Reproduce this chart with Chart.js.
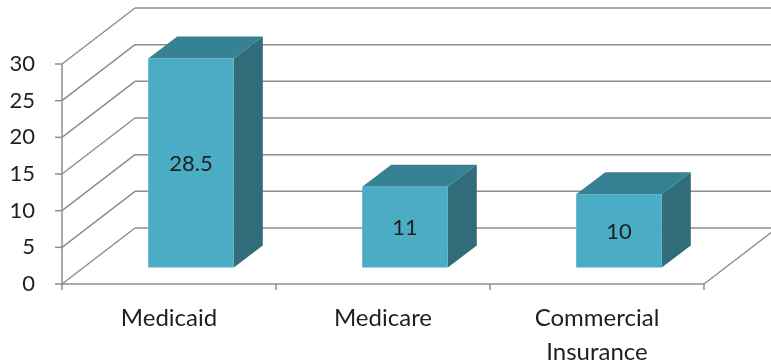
<!DOCTYPE html>
<html>
<head>
<meta charset="utf-8">
<script src="https://cdn.jsdelivr.net/npm/chart.js@4/dist/chart.umd.min.js"></script>
<style>
    html, body { margin: 0; padding: 0; background: #ffffff; }
    canvas { display: block; }
</style>
</head>
<body>
<canvas id="graficoCanvas" width="771" height="364"></canvas>
<script>
const categorias = [['Medicaid'], ['Medicare'], ['Commercial', 'Insurance']];
const valores = [28.5, 11, 10];
const ticksY = [0, 5, 10, 15, 20, 25, 30];

// profundidade das paredes e das barras
const PAREDE_DX = 73, PAREDE_DY = -56;
const BARRA_OX = 22, BARRA_OY = -16.5;
const BARRA_DX = 29, BARRA_DY = -22;
const corLinha = '#8e8e8e';
const corFrente = '#4bacc6';
const corTopo = '#378194';
const corLado = '#306c7a';

function linha(ctx, x1, y1, x2, y2) {
    ctx.beginPath();
    ctx.moveTo(x1, y1);
    ctx.lineTo(x2, y2);
    ctx.stroke();
}

const grade3d = {
    id: 'grade3d',
    beforeDatasetsDraw(chart) {
        const ctx = chart.ctx;
        const area = chart.chartArea;
        const y = chart.scales.y;
        const x = chart.scales.x;
        ctx.save();
        ctx.strokeStyle = corLinha;
        ctx.lineWidth = 1.5;

        // parede lateral e parede do fundo
        ticksY.forEach(v => {
            const py = y.getPixelForValue(v);
            linha(ctx, area.left, py, area.left + PAREDE_DX, py + PAREDE_DY);
            linha(ctx, area.left + PAREDE_DX, py + PAREDE_DY, chart.width, py + PAREDE_DY);
            linha(ctx, area.left - 7, py, area.left, py);
        });

        // eixo vertical
        linha(ctx, area.left, y.getPixelForValue(30), area.left, area.bottom);

        // piso
        linha(ctx, area.left, area.bottom, area.right, area.bottom);
        linha(ctx, area.right, area.bottom, area.right + PAREDE_DX, area.bottom + PAREDE_DY);

        // marcas entre categorias
        const passo = (area.right - area.left) / categorias.length;
        for (let i = 0; i <= categorias.length; i++) {
            const px = area.left + passo * i;
            linha(ctx, px, area.bottom, px, area.bottom + 6);
        }
        ctx.restore();
    },
    afterDatasetsDraw(chart) {
        const ctx = chart.ctx;
        const meta = chart.getDatasetMeta(0);
        ctx.save();
        meta.data.forEach((bar, i) => {
            const x0 = bar.x - bar.width / 2 + BARRA_OX;
            const x1 = x0 + bar.width;
            const y0 = bar.y + BARRA_OY;
            const y1 = bar.base + BARRA_OY;

            // topo
            ctx.fillStyle = corTopo;
            ctx.beginPath();
            ctx.moveTo(x0, y0);
            ctx.lineTo(x0 + BARRA_DX, y0 + BARRA_DY);
            ctx.lineTo(x1 + BARRA_DX, y0 + BARRA_DY);
            ctx.lineTo(x1, y0);
            ctx.closePath();
            ctx.fill();

            // lado
            ctx.fillStyle = corLado;
            ctx.beginPath();
            ctx.moveTo(x1, y0);
            ctx.lineTo(x1 + BARRA_DX, y0 + BARRA_DY);
            ctx.lineTo(x1 + BARRA_DX, y1 + BARRA_DY);
            ctx.lineTo(x1, y1);
            ctx.closePath();
            ctx.fill();

            // frente
            ctx.fillStyle = corFrente;
            ctx.fillRect(x0, y0, x1 - x0, y1 - y0);

            // rótulo do valor
            ctx.fillStyle = '#1f1f1f';
            ctx.font = '22px Lato';
            ctx.textAlign = 'center';
            ctx.textBaseline = 'middle';
            ctx.fillText(String(valores[i]), (x0 + x1) / 2, (y0 + y1) / 2 + 1);
        });
        ctx.restore();
    }
};

const ctx = document.getElementById('graficoCanvas').getContext('2d');
const grafico = new Chart(ctx, {
    type: 'bar',
    data: {
        labels: categorias,
        datasets: [{
            data: valores,
            backgroundColor: 'rgba(0,0,0,0)',
            borderWidth: 0,
            categoryPercentage: 1,
            barPercentage: 0.4
        }]
    },
    options: {
        responsive: false,
        animation: false,
        layout: { padding: { top: 64, right: 67, left: 0, bottom: 0 } },
        plugins: {
            legend: { display: false },
            tooltip: { enabled: false },
            title: { display: false }
        },
        scales: {
            y: {
                min: 0,
                max: 30,
                afterFit(scale) { scale.width = 62; },
                grid: { display: false, drawTicks: false },
                border: { display: false },
                ticks: {
                    stepSize: 5,
                    padding: 27,
                    color: '#1f1f1f',
                    font: { family: 'Lato', size: 22 }
                }
            },
            x: {
                afterFit(scale) { scale.height = 80; },
                grid: { display: false, drawTicks: false },
                border: { display: false },
                ticks: {
                    padding: 17,
                    maxRotation: 0,
                    color: '#1f1f1f',
                    font: { family: 'Lato', size: 24, lineHeight: 1.42 }
                }
            }
        }
    },
    plugins: [grade3d]
});
</script>
</body>
</html>
